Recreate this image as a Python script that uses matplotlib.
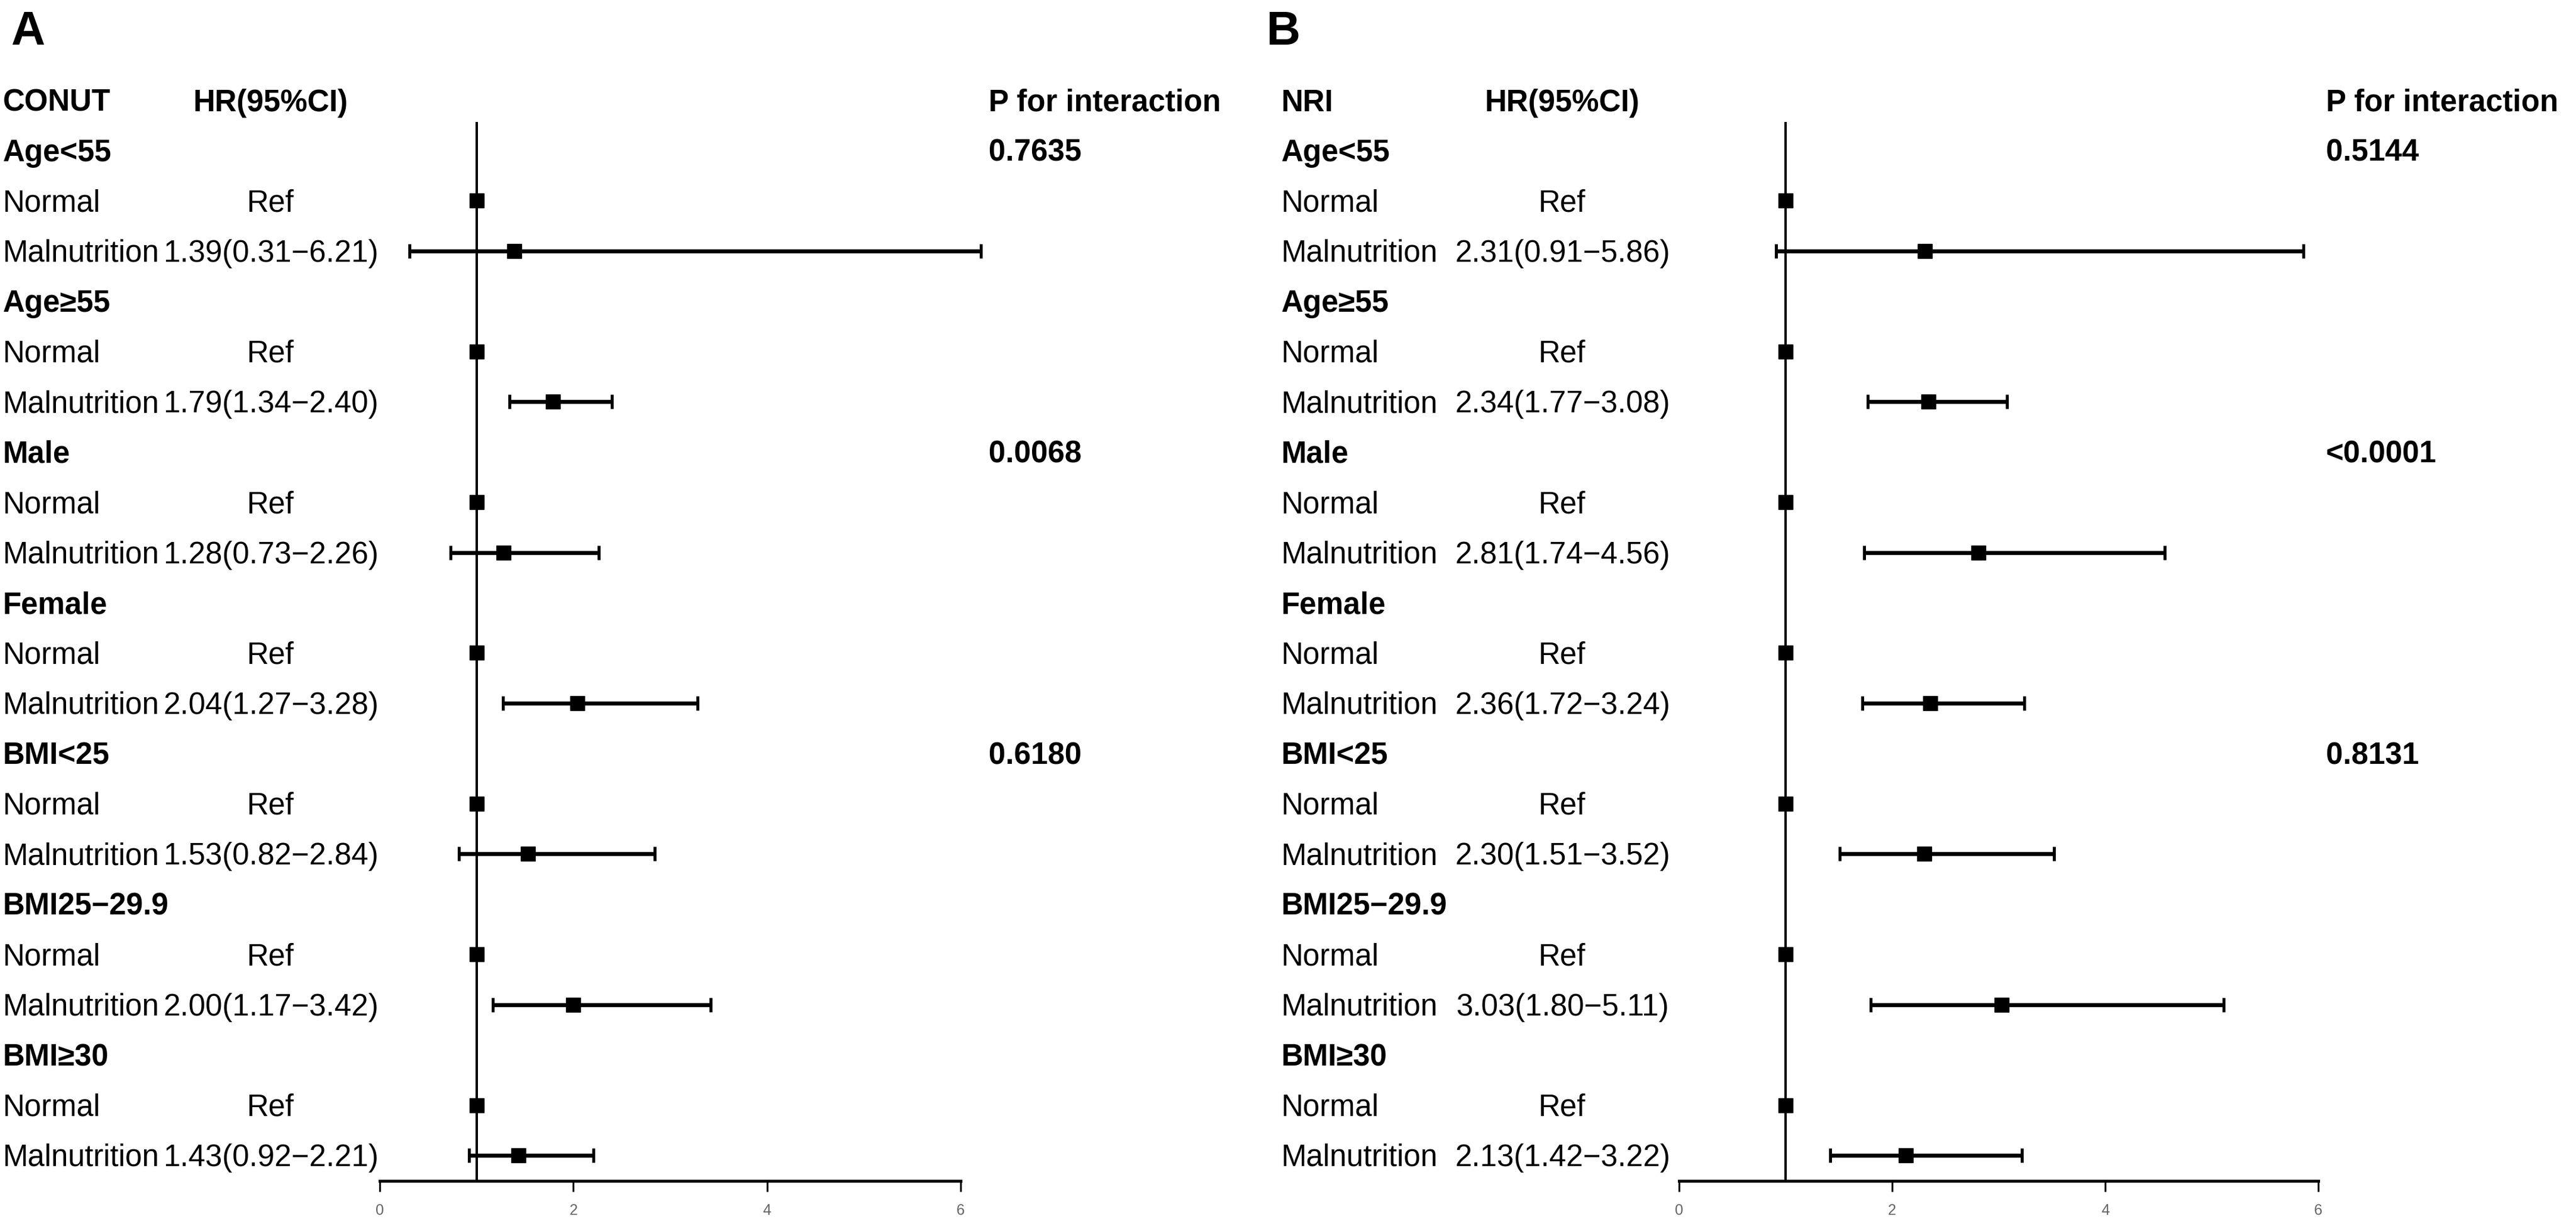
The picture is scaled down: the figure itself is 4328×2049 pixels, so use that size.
import matplotlib
matplotlib.use("Agg")
import matplotlib.pyplot as plt
import numpy as np
from matplotlib.transforms import blended_transform_factory, ScaledTranslation

plt.rcParams['font.family'] = ['Liberation Sans', 'DejaVu Sans']

# ---------------- data ----------------
groups = ["Age<55", "Age≥55", "Male", "Female", "BMI<25", "BMI25−29.9", "BMI≥30"]

conut_hr = [1.39, 1.79, 1.28, 2.04, 1.53, 2.00, 1.43]
conut_lo = [0.31, 1.34, 0.73, 1.27, 0.82, 1.17, 0.92]
conut_hi = [6.21, 2.40, 2.26, 3.28, 2.84, 3.42, 2.21]
conut_p = ["0.7635", "", "0.0068", "", "0.6180", "", ""]

nri_hr = [2.31, 2.34, 2.81, 2.36, 2.30, 3.03, 2.13]
nri_lo = [0.91, 1.77, 1.74, 1.72, 1.51, 1.80, 1.42]
nri_hi = [5.86, 3.08, 4.56, 3.24, 3.52, 5.11, 3.22]
nri_p = ["0.5144", "", "<0.0001", "", "0.8131", "", ""]

xticks = [0, 2, 4, 6]

# ---------------- figure ----------------
W, H, DPI = 4328, 2049, 100
fig = plt.figure(figsize=(W / DPI, H / DPI), dpi=DPI)

FS = 36.7
AX_TOP_PX, AX_BOT_PX = 205, 1985
ROW0_PX, ROW_STEP = 253, 84.45
y_top = (AX_TOP_PX - ROW0_PX) / ROW_STEP
y_bot = (AX_BOT_PX - ROW0_PX) / ROW_STEP


def panel(letter, title, hr, lo, hi, pvals, ax_left_px, ax_right_px,
          col_label_px, letter_px, hr_center_px, p_left_px):
    ax = fig.add_axes([ax_left_px / W, 1 - AX_BOT_PX / H,
                       (ax_right_px - ax_left_px) / W,
                       (AX_BOT_PX - AX_TOP_PX) / H])
    ax.set_xlim(0, 6)
    ax.set_ylim(y_bot, y_top)
    for s in ['top', 'right', 'left']:
        ax.spines[s].set_visible(False)
    ax.spines['bottom'].set_linewidth(3.6)
    ax.set_yticks([])
    ax.set_xticks(xticks)
    ax.set_xticklabels([str(t) for t in xticks])
    ax.tick_params(axis='x', length=13, width=2.2, pad=14, labelsize=18,
                   labelcolor='#666666', color='black')
    ax.patch.set_alpha(0)

    n = len(groups)
    head_rows = np.arange(n) * 3
    norm_rows = head_rows + 1
    mal_rows = head_rows + 2
    hr_a = np.array(hr)
    lo_a = np.array(lo)
    hi_a = np.array(hi)

    ax.axvline(1, color='black', lw=2.9, zorder=1)
    ax.errorbar(hr_a, mal_rows, xerr=[hr_a - lo_a, hi_a - hr_a], fmt='s',
                color='black', ms=17.5, lw=4.8, capsize=8.8, capthick=3.6,
                zorder=3, clip_on=False)
    ax.plot(np.ones(n), norm_rows, 's', color='black', ms=17.5, zorder=3,
            clip_on=False)

    tr = blended_transform_factory(fig.transFigure, ax.transData) + \
        ScaledTranslation(0, -0.18, fig.dpi_scale_trans)

    def t(xpx, y, s, bold=False, ha='left'):
        fig.text(xpx / W, y, s, transform=tr, fontsize=FS, ha=ha,
                 va='baseline', fontweight='bold' if bold else 'normal',
                 color='black')

    # header row
    t(col_label_px, -1, title, bold=True)
    t(hr_center_px, -1, "HR(95%CI)", bold=True, ha='center')
    t(p_left_px, -1, "P for interaction", bold=True)

    for i, g in enumerate(groups):
        t(col_label_px, head_rows[i], g, bold=True)
        if pvals[i]:
            t(p_left_px, head_rows[i], pvals[i], bold=True)
        t(col_label_px, norm_rows[i], "Normal")
        t(hr_center_px, norm_rows[i], "Ref", ha='center')
        t(col_label_px, mal_rows[i], "Malnutrition")
        t(hr_center_px, mal_rows[i],
          f"{hr[i]:.2f}({lo[i]:.2f}−{hi[i]:.2f})", ha='center')

    fig.text(letter_px / W, 1 - 75 / H, letter, fontsize=57,
             fontweight='bold', va='baseline', ha='left')
    return ax


panel("A", "CONUT", conut_hr, conut_lo, conut_hi, conut_p,
      638, 1614, 5, 18, 455, 1661)
panel("B", "NRI", nri_hr, nri_lo, nri_hi, nri_p,
      2821, 3895, 2153, 2128, 2625, 3908)

fig.savefig("out.png", dpi=DPI, facecolor='white')
